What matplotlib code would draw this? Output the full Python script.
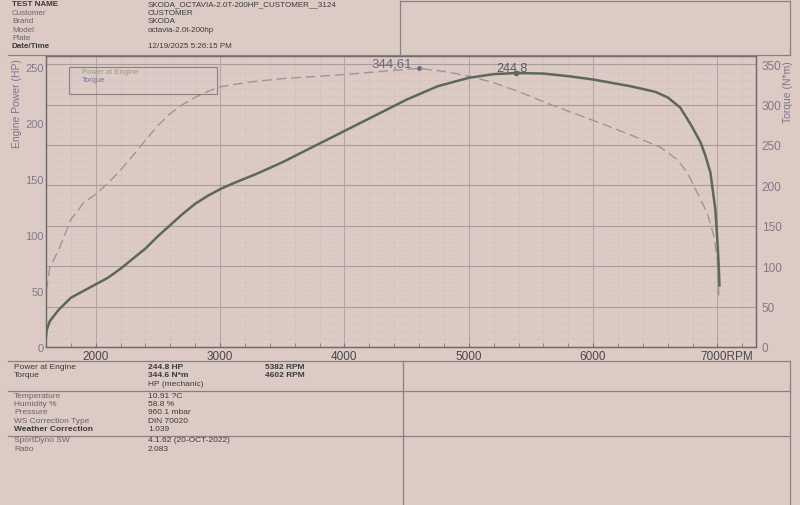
import matplotlib
matplotlib.use("Agg")
import matplotlib.pyplot as plt
from matplotlib.lines import Line2D
from matplotlib.patches import Rectangle
from matplotlib.ticker import MultipleLocator
from matplotlib.transforms import ScaledTranslation

plt.rcParams["font.family"] = ["Liberation Sans", "DejaVu Sans"]

# --- data ---
power_rpm = [1600, 1605, 1630, 1700, 1800, 1900, 2000, 2100, 2200, 2300, 2400, 2500,
             2600, 2700, 2800, 2900, 3000, 3100, 3200, 3300, 3500, 3750, 4000, 4250,
             4500, 4750, 5000, 5200, 5382, 5600, 5800, 6000, 6300, 6500, 6600, 6700,
             6756, 6800, 6863, 6900, 6943, 6983, 7002, 7010, 7016]
power_hp = [9, 15, 23, 33, 44, 50, 56, 62, 70, 79, 88, 99,
            109, 119, 128, 135, 141, 146, 150.5, 155, 165, 179, 193, 207,
            221, 233, 240.5, 243.8, 244.8, 244.3, 242, 239, 233, 228, 223, 214,
            204, 196, 183, 172, 156, 123, 90, 73, 55]

torque_rpm = [1602, 1630, 1710, 1800, 1849, 1900, 2000, 2100, 2200, 2300, 2400, 2500,
              2600, 2700, 2800, 2900, 3000, 3250, 3500, 4000, 4300, 4602, 4800, 5000,
              5200, 5400, 5657, 6059, 6324, 6541, 6676, 6756, 6837, 6917, 6970, 6998,
              7010, 7013]
torque_nm = [70, 98, 123, 158, 167, 178, 189, 203, 219, 237, 256, 274,
             289, 300, 309, 316, 322, 328, 332, 337, 341, 344.61, 341, 335,
             327, 316, 300, 277, 261, 247, 232, 216, 191, 166, 138, 109,
             68, 60]

peak_power = (5382, 244.8)
peak_torque = (4602, 344.61)

header_labels = ["TEST NAME", "Customer", "Brand", "Model", "Plate", "Date/Time"]
header_values = ["SKODA_OCTAVIA-2.0T-200HP_CUSTOMER__3124", "CUSTOMER", "SKODA",
                 "octavia-2.0t-200hp", "", "12/19/2025 5:26:15 PM"]

result_labels = ["Power at Engine", "Torque", ""]
result_values = ["244.8 HP", "344.6 N*m", "HP (mechanic)"]
result_rpm = ["5382 RPM", "4602 RPM", ""]

weather_labels = ["Temperature", "Humidity %", "Pressure", "WS Correction Type",
                  "Weather Correction"]
weather_values = ["10.91 ?C", "58.8 %", "960.1 mbar", "DIN 70020", "1.039"]

sw_labels = ["SportDyno SW", "Ratio"]
sw_values = ["4.1.62 (20-OCT-2022)", "2.083"]

paper = "#dccbc5"
ink = "#3c3a3c"
label_ink = "#6a6468"
tick_ink = "#807888"
W, H = 800, 506

fig = plt.figure(figsize=(8, 5.06), dpi=100, facecolor=paper)


def px(x, y):
    return x / W, 1 - y / H


def hline(y, x0, x1, lw=0.9, color="#8a8082"):
    fig.add_artist(Line2D([x0 / W, x1 / W], [1 - y / H] * 2, lw=lw, color=color))


def vline(x, y0, y1, lw=0.9, color="#8a8082"):
    fig.add_artist(Line2D([x / W] * 2, [1 - y0 / H, 1 - y1 / H], lw=lw, color=color))


# header block
hline(1.5, 400, 790)
hline(56, 8, 790)
vline(400, 1.5, 56)
vline(790, 1.5, 56)
for i, (lab, val) in enumerate(zip(header_labels, header_values)):
    y = 5 + i * 8.4
    bold = lab in ("TEST NAME", "Date/Time")
    fig.text(*px(12, y), lab, fontsize=5.8, color=ink if bold else label_ink,
             fontweight="bold" if bold else "normal", va="center")
    fig.text(*px(148, y), val, fontsize=5.8, color=ink, va="center")

# results table
hline(362, 8, 790)
hline(392, 8, 790)
hline(437, 8, 790)
vline(403, 362, 506)
vline(790, 362, 506)
for i, (lab, val, rpm) in enumerate(zip(result_labels, result_values, result_rpm)):
    y = 367.5 + i * 8.4
    fig.text(*px(14, y), lab, fontsize=6, color=ink, va="center")
    fig.text(*px(148, y), val, fontsize=6, color=ink, va="center",
             fontweight="bold" if i < 2 else "normal")
    fig.text(*px(265, y), rpm, fontsize=6, color=ink, va="center", fontweight="bold")
for i, (lab, val) in enumerate(zip(weather_labels, weather_values)):
    y = 396 + i * 8.4
    bold = lab == "Weather Correction"
    fig.text(*px(14, y), lab, fontsize=6, color=ink if bold else label_ink,
             va="center", fontweight="bold" if bold else "normal")
    fig.text(*px(148, y), val, fontsize=6, color=ink, va="center")
for i, (lab, val) in enumerate(zip(sw_labels, sw_values)):
    y = 441 + i * 8.4
    fig.text(*px(14, y), lab, fontsize=6, color=label_ink, va="center")
    fig.text(*px(148, y), val, fontsize=6, color=ink, va="center")

# chart
ax = fig.add_axes([46 / W, 1 - 348 / H, (756 - 46) / W, (348 - 57) / H])
ax2 = ax.twinx()

ax.set_xlim(1600, 7310)
ax.set_ylim(0, 260)
ax2.set_ylim(0, 360)

ax.xaxis.set_major_locator(MultipleLocator(1000))
ax.xaxis.set_minor_locator(MultipleLocator(200))
ax.set_yticks(range(0, 251, 50))
ax2.yaxis.set_major_locator(MultipleLocator(50))
ax2.yaxis.set_minor_locator(MultipleLocator(10))

ax2.grid(True, which="major", axis="y", color="#a89c9c", lw=0.8)
ax2.grid(True, which="minor", axis="y", color="#c8bab6", lw=0.5, ls=":")
ax2.set_axisbelow(True)

ax.tick_params(axis="x", which="both", direction="in", length=3, color="#777",
               labelsize=8.5, labelcolor="#4a474a", pad=2)
ax.tick_params(axis="y", length=0, labelsize=8, labelcolor=tick_ink, pad=1.5)
ax2.tick_params(axis="y", which="both", length=0, labelsize=8.5, labelcolor=tick_ink, pad=4)

xt = [2000, 3000, 4000, 5000, 6000, 7000]
ax.set_xticks(xt)
ax.set_xticklabels([str(v) for v in xt[:-1]] + ["7000RPM"])
last = ax.get_xticklabels()[-1]
last.set_horizontalalignment("left")
last.set_transform(last.get_transform() + ScaledTranslation(-0.17, 0, fig.dpi_scale_trans))

for a in (ax, ax2):
    for s in a.spines.values():
        s.set_color("#6e6a6c")
        s.set_linewidth(0.9)

# vertical grid drawn on the back axes so it sits under both curves
for v in range(1800, 7300, 200):
    major = v % 1000 == 0
    ax2.axvline(v, color="#b4a6a4" if major else "#c6b8b4", lw=0.8 if major else 0.6,
                ls="-" if major else ":", zorder=0)

ax2.plot(torque_rpm, torque_nm, color="#9e9592", lw=1.0, dashes=(7, 3.5), zorder=3)
ax2.plot(*peak_torque, "o", ms=2.5, color="#6e6a86", zorder=4)
ax2.annotate("344,61", peak_torque, xytext=(-20, -1), textcoords="offset points",
             fontsize=9.5, color="#6a6684", ha="center", va="bottom")

ax.plot(power_rpm, power_hp, color="#5d6858", lw=1.8, zorder=5)
ax.plot(*peak_power, "o", ms=3, color="#5d6858", zorder=6)
ax.annotate("244,8", peak_power, xytext=(-3, 0), textcoords="offset points",
            fontsize=9, color="#5a5a5a", ha="center", va="bottom")
ax.set_zorder(ax2.get_zorder() + 1)
ax.patch.set_visible(False)
ax2.patch.set_visible(True)
ax2.patch.set_facecolor(paper)

# legend box
fig.add_artist(Rectangle(px(69, 95), 148 / W, 27 / H, fill=False, lw=0.8,
                         edgecolor="#8a8082"))
fig.text(*px(82, 73), "Power at Engine", fontsize=5.5, color="#93a27e", va="center")
fig.text(*px(82, 81), "Torque", fontsize=5.5, color="#7674a6", va="center")

fig.text(*px(17, 104), "Engine Power (HP)", rotation=90, fontsize=7.5,
         color="#7c7490", ha="center", va="center")
fig.text(*px(788, 92), "Torque (N*m)", rotation=90, fontsize=7.5,
         color="#7c7490", ha="center", va="center")

fig.savefig("out.png", dpi=100, facecolor=paper)
